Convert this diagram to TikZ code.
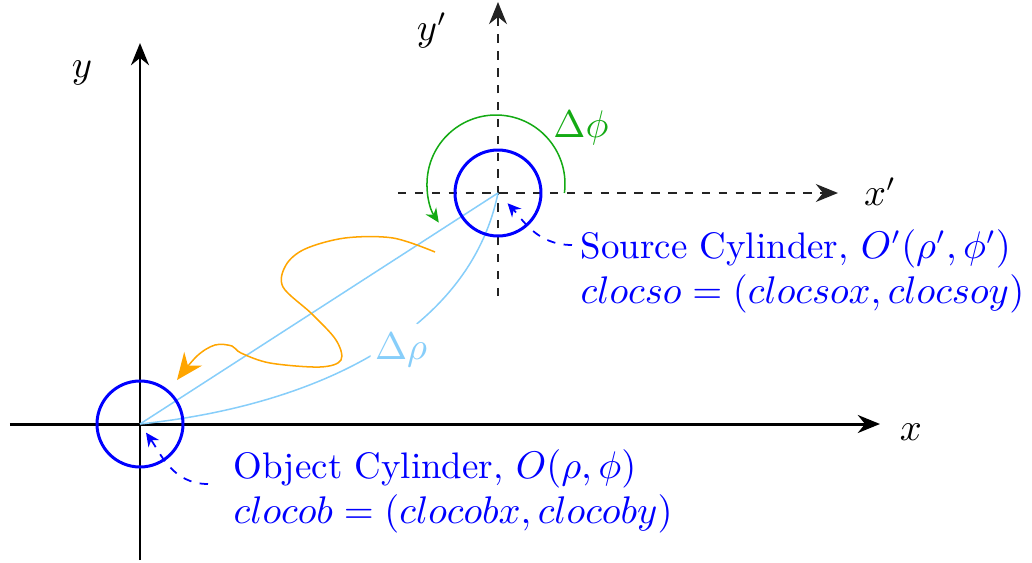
\documentclass[tikz,border=0pt]{standalone}
\usetikzlibrary{arrows.meta,calc}
\definecolor{lblue}{RGB}{135,206,250}
\definecolor{myorange}{RGB}{255,165,0}
\definecolor{mygreen}{RGB}{20,170,20}
\definecolor{axgray}{RGB}{35,35,35}
\begin{document}
\begin{tikzpicture}[x=0.01cm,y=0.01cm,
  every node/.style={font=\fontsize{10.5pt}{12.8pt}\selectfont},
  axis/.style={line width=0.85pt,-{Stealth[length=6.3pt,width=5.1pt]}},
  daxis/.style={line width=0.57pt,axgray,dash pattern=on 2.4pt off 2.4pt,-{Stealth[length=6.3pt,width=5.1pt]}},
  cyl/.style={line width=0.85pt,blue},
  rho/.style={line width=0.43pt,lblue},
  bdash/.style={line width=0.5pt,blue,dash pattern=on 2.4pt off 2.4pt,-{Stealth[length=3.8pt,width=3.6pt]}},
  lab/.style={text=blue,align=left,inner sep=0pt,anchor=west}]
\path[use as bounding box] (0,0) rectangle (1032,-563);
% coordinates
\coordinate (O) at (140,-424);
\coordinate (Op) at (498,-193);
\coordinate (xs) at (10,-424);
\coordinate (xe) at (880,-424);
\coordinate (ys) at (140,-560);
\coordinate (ye) at (140,-43);
\coordinate (xps) at (398,-193);
\coordinate (xpe) at (838,-193);
\coordinate (yps) at (498,-296);
\coordinate (ype) at (498,-2);
% axes
\draw[axis] (xs) -- (xe);
\draw[axis] (ys) -- (ye);
\draw[daxis] (xps) -- (xpe);
\draw[daxis] (yps) -- (ype);
\node (lx) at (911,-432) {$x$};
\node (ly) at (82,-73) {$y$};
\node (lxp) at (880,-192) {$x'$};
\node (lyp) at (432,-30) {$y'$};
% light blue lines
\draw[rho] (O) -- (Op);
\draw[rho] (O) .. controls (320,-405) and (470,-330) .. node[pos=0.535,circle,fill=white,minimum size=0.57cm,inner sep=0pt,text=lblue,xshift=0.12cm,yshift=-0.06cm] (drho) {$\Delta\rho$} (Op);
% orange path
\draw[myorange,line width=0.43pt,-{Stealth[length=7.6pt,width=6.4pt]}]
  plot[smooth,tension=0.55] coordinates {(435,-252) (393,-238) (345,-238) (305,-249) (286,-265) (283,-287) (312,-314) (336,-340) (341,-360) (320,-367) (270,-363) (241,-353) (232,-346) (215,-345) (197,-356) (177,-380)};
% green arc
\coordinate (gc) at (496,-184);
\draw[mygreen,line width=0.43pt,-{Stealth[length=4pt,width=3.6pt]}] ($(gc)+(-7.5:69)$) arc[start angle=-7.5,end angle=214,radius=69];
\node[text=mygreen] (dphi) at (581,-128) {$\Delta\phi$};
% cylinders
\draw[cyl] (O) circle[radius=43];
\draw[cyl] (Op) circle[radius=43];
% labels
\node[lab] (src) at (580,-271) {Source Cylinder, $O'(\rho',\phi')$\\$clocso=(clocsox,clocsoy)$};
\node[lab] (obj) at (233,-491) {Object Cylinder, $O(\rho,\phi)$\\$clocob=(clocobx,clocoby)$};
\coordinate (srca) at (572,-245);
\coordinate (obja) at (208,-484);
\draw[bdash,shorten >=4] (srca) to[out=180,in=-47] (Op);
\draw[bdash,shorten >=3] (obja) to[out=180,in=-55] (O);
\end{tikzpicture}
\end{document}
